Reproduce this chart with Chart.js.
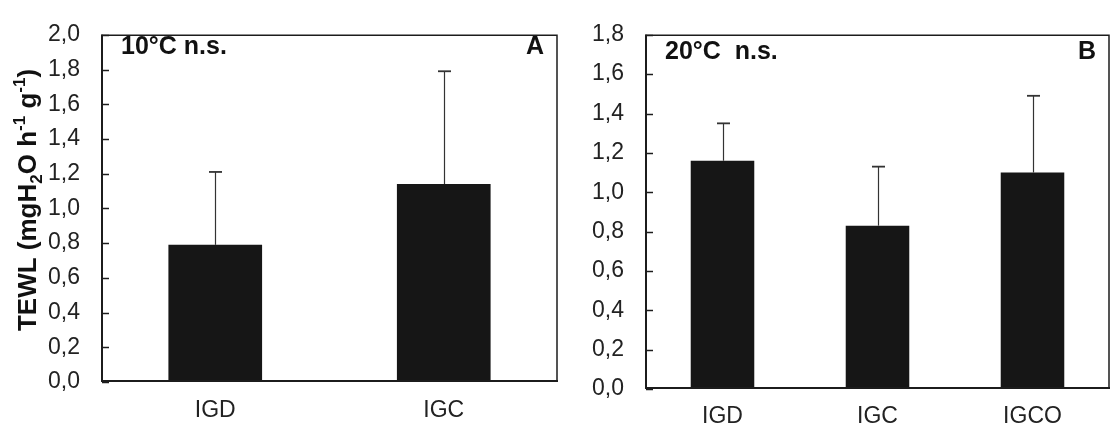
<!DOCTYPE html>
<html>
<head>
<meta charset="utf-8">
<script src="https://cdn.jsdelivr.net/npm/chart.js@4.4.1/dist/chart.umd.min.js"></script>
<style>
  body { margin: 0; background: #fff; }
  #wrap { position: relative; width: 1110px; height: 430px; }
  .panel { position: absolute; top: 0; height: 430px; }
  #panelA { left: 0; width: 570px; }
  #panelB { left: 570px; width: 540px; }
</style>
</head>
<body>
<div id="wrap">
  <div class="panel" id="panelA"><canvas id="chartA"></canvas></div>
  <div class="panel" id="panelB"><canvas id="chartB"></canvas></div>
</div>
<script>
// TEWL means and SD, panel A (10°C) and panel B (20°C)
const groupsA = ['IGD', 'IGC'];
const meanA = [0.79, 1.14];
const sdA = [0.42, 0.65];

const groupsB = ['IGD', 'IGC', 'IGCO'];
const meanB = [1.16, 0.83, 1.10];
const sdB = [0.19, 0.30, 0.39];

const yMaxA = 2.0;
const yMaxB = 1.8;
const yStep = 0.2;

const FONT = "'Liberation Sans', Arial, sans-serif";
const INK = '#1c1c1c';

Chart.defaults.font.family = FONT;
Chart.defaults.color = '#222';

// error bars (upper half only) drawn on top of each bar
const errorBars = {
  id: 'errorBars',
  afterDatasetsDraw(chart, args, opts) {
    const ctx = chart.ctx;
    const y = chart.scales.y;
    const vals = chart.data.datasets[0].data;
    chart.getDatasetMeta(0).data.forEach((bar, i) => {
      const x = Math.round(bar.x) + 0.5;
      const yTop = y.getPixelForValue(vals[i] + opts.sd[i]);
      ctx.save();
      ctx.strokeStyle = '#333';
      ctx.lineWidth = 1.2;
      ctx.beginPath();
      ctx.moveTo(x, bar.y);
      ctx.lineTo(x, yTop);
      ctx.stroke();
      ctx.lineWidth = 1.8;
      ctx.beginPath();
      ctx.moveTo(x - 6.5, yTop);
      ctx.lineTo(x + 6.5, yTop);
      ctx.stroke();
      ctx.restore();
    });
  }
};

// box around the plot, inward ticks, panel captions
const frame = {
  id: 'frame',
  afterDraw(chart, args, opts) {
    const ctx = chart.ctx;
    const a = chart.chartArea;
    const y = chart.scales.y;
    ctx.save();
    ctx.strokeStyle = INK;
    // top and right
    ctx.lineWidth = 1.5;
    ctx.beginPath();
    ctx.moveTo(a.left, a.top + 0.5);
    ctx.lineTo(a.right - 1, a.top + 0.5);
    ctx.lineTo(a.right - 1, a.bottom);
    ctx.stroke();
    // left and bottom axes
    ctx.lineWidth = 2;
    ctx.beginPath();
    ctx.moveTo(a.left + 1, a.top);
    ctx.lineTo(a.left + 1, a.bottom - 1);
    ctx.lineTo(a.right, a.bottom - 1);
    ctx.stroke();
    // ticks pointing into the plot
    ctx.lineWidth = 1.5;
    y.ticks.forEach(t => {
      const py = Math.round(y.getPixelForValue(t.value)) + 0.5;
      ctx.beginPath();
      ctx.moveTo(a.left + 1, py);
      ctx.lineTo(a.left + 8, py);
      ctx.stroke();
    });
    // captions
    ctx.fillStyle = '#111';
    ctx.font = 'bold 25px ' + FONT;
    ctx.textBaseline = 'middle';
    ctx.textAlign = 'left';
    ctx.fillText(opts.note, a.left + 20, opts.captionY);
    ctx.textAlign = 'right';
    ctx.fillText(opts.letter, a.right - 14, opts.captionY);
    ctx.restore();
  }
};

// rotated y title with sub/superscripts
const yTitle = {
  id: 'yTitle',
  afterDraw(chart, args, opts) {
    const ctx = chart.ctx;
    const big = 'bold 26px ' + FONT;
    const small = 'bold 17px ' + FONT;
    const parts = [
      { t: 'TEWL (mgH', f: big, dy: 0 },
      { t: '2', f: small, dy: 6 },
      { t: 'O h', f: big, dy: 0 },
      { t: '-1', f: small, dy: -11 },
      { t: ' g', f: big, dy: 0 },
      { t: '-1', f: small, dy: -11 },
      { t: ')', f: big, dy: 0 }
    ];
    ctx.save();
    let total = 0;
    parts.forEach(p => { ctx.font = p.f; p.w = ctx.measureText(p.t).width; total += p.w; });
    ctx.translate(opts.x, opts.cy);
    ctx.rotate(-Math.PI / 2);
    ctx.fillStyle = '#111';
    ctx.textBaseline = 'alphabetic';
    ctx.textAlign = 'left';
    let x = -total / 2;
    parts.forEach(p => {
      ctx.font = p.f;
      ctx.fillText(p.t, x, p.dy);
      x += p.w;
    });
    ctx.restore();
  }
};

function makeChart(id, groups, means, sd, yMax, axisWidth, axisHeight, padRight, note, letter, captionY, labelPad, extra) {
  return new Chart(document.getElementById(id), {
    type: 'bar',
    data: {
      labels: groups,
      datasets: [{
        data: means,
        backgroundColor: '#161616',
        borderWidth: 0,
        barPercentage: 0.41,
        categoryPercentage: 1
      }]
    },
    options: {
      responsive: true,
      maintainAspectRatio: false,
      animation: false,
      layout: { padding: { top: 22, right: padRight, left: 0, bottom: 0 } },
      scales: {
        x: {
          grid: { display: false, drawTicks: false },
          border: { display: false },
          ticks: { padding: labelPad, font: { size: 23 }, color: '#222' },
          afterFit: s => { s.height = axisHeight; }
        },
        y: {
          min: 0,
          max: yMax,
          grid: { display: false, drawTicks: false },
          border: { display: false },
          ticks: {
            stepSize: yStep,
            padding: 21,
            font: { size: 23 },
            color: '#222',
            callback: v => v.toFixed(1).replace('.', ',')
          },
          afterFit: s => { s.width = axisWidth; }
        }
      },
      plugins: {
        legend: { display: false },
        tooltip: { enabled: false },
        errorBars: { sd: sd },
        frame: { note: note, letter: letter, captionY: captionY },
        yTitle: { x: 36, cy: 200 }
      }
    },
    plugins: [errorBars, frame].concat(extra)
  });
}

makeChart('chartA', groupsA, meanA, sdA, yMaxA, 101, 48, 12, '10°C n.s.', 'A', 47, 15, [yTitle]);
makeChart('chartB', groupsB, meanB, sdB, yMaxB, 75, 41, 0, '20°C  n.s.', 'B', 52, 14, []);
</script>
</body>
</html>
